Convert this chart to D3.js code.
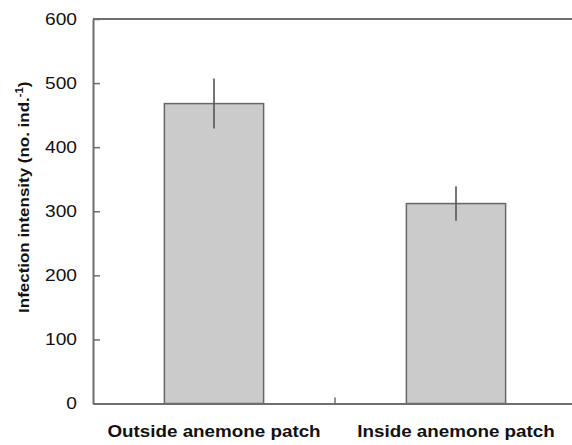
<!DOCTYPE html>
<html lang="en">
<head>
<meta charset="utf-8">
<script src="https://d3js.org/d3.v7.min.js"></script>
<style>
  body { margin: 0; background: #fff; }
  text { font-family: "Liberation Sans", Arial, sans-serif; fill: #111; }
</style>
</head>
<body>
<div id="chart"></div>
<script>
// values
const categories = ["Outside anemone patch", "Inside anemone patch"];
const means = [468, 312];
const errors = [39, 27];
const yTicks = [0, 100, 200, 300, 400, 500, 600];

const W = 572, H = 445;
const plotLeft = 93, plotRight = 577, plotTop = 19, plotBottom = 403.5;

const svg = d3.select("#chart").append("svg")
  .attr("width", W)
  .attr("height", H);

const x = d3.scaleBand()
  .domain(categories)
  .range([plotLeft, plotRight])
  .paddingInner(0.59)
  .paddingOuter(0.295);

const y = d3.scaleLinear()
  .domain([0, 600])
  .range([plotBottom, plotTop]);

// text in the picture is a little wider than Arial
function stretch(sel, k) {
  sel.each(function() {
    const w = this.getComputedTextLength();
    d3.select(this).attr("textLength", w * k).attr("lengthAdjust", "spacingAndGlyphs");
  });
}

const axisCol = "#6e6e6e";

// bars
svg.append("g")
  .selectAll("rect")
  .data(categories)
  .join("rect")
    .attr("x", d => x(d))
    .attr("y", (d, i) => y(means[i]))
    .attr("width", x.bandwidth())
    .attr("height", (d, i) => y(0) - y(means[i]))
    .attr("fill", "#cbcbcb")
    .attr("stroke", "#666")
    .attr("stroke-width", 1.5);

// error bars
svg.append("g")
  .selectAll("line")
  .data(categories)
  .join("line")
    .attr("x1", d => x(d) + x.bandwidth() / 2)
    .attr("x2", d => x(d) + x.bandwidth() / 2)
    .attr("y1", (d, i) => y(means[i] + errors[i]))
    .attr("y2", (d, i) => y(means[i] - errors[i]))
    .attr("stroke", "#555")
    .attr("stroke-width", 1.6);

// y axis with inward ticks
const yAxis = svg.append("g")
  .attr("transform", `translate(${plotLeft},0)`)
  .call(d3.axisLeft(y).tickValues(yTicks).tickSizeInner(-7).tickSizeOuter(0).tickPadding(16));
yAxis.select(".domain").attr("stroke", axisCol).attr("stroke-width", 2);
yAxis.selectAll(".tick line").attr("stroke", axisCol).attr("stroke-width", 1.5);
yAxis.selectAll(".tick text")
  .attr("font-size", 16.5)
  .attr("font-family", "Liberation Sans, Arial, sans-serif")
  .attr("fill", "#111")
  .call(stretch, 1.16);

// top frame line
svg.append("line")
  .attr("x1", plotLeft).attr("x2", plotRight)
  .attr("y1", y(600)).attr("y2", y(600))
  .attr("stroke", axisCol).attr("stroke-width", 2);

// bottom axis
const xAxis = svg.append("g")
  .attr("transform", `translate(0,${plotBottom})`)
  .call(d3.axisBottom(x).tickSize(0).tickPadding(22).tickSizeOuter(0));
xAxis.select(".domain").attr("stroke", axisCol).attr("stroke-width", 2);
xAxis.selectAll(".tick text")
  .attr("font-size", 16.5)
  .attr("font-weight", "bold")
  .attr("font-family", "Liberation Sans, Arial, sans-serif")
  .attr("fill", "#111")
  .call(stretch, 1.14);

// small divider tick between the two categories
const mid = (x(categories[0]) + x.bandwidth() + x(categories[1])) / 2;
svg.append("line")
  .attr("x1", mid).attr("x2", mid)
  .attr("y1", plotBottom).attr("y2", plotBottom - 6)
  .attr("stroke", axisCol).attr("stroke-width", 1.5);

// y label
const yl = svg.append("text")
  .attr("transform", `translate(29,${(plotTop + plotBottom) / 2 - 14}) rotate(-90)`)
  .attr("text-anchor", "middle")
  .attr("font-size", 15)
  .attr("font-weight", "bold");
yl.append("tspan").text("Infection intensity (no. ind.");
yl.append("tspan").attr("font-size", 10).attr("dy", -6).text("-1");
yl.append("tspan").attr("dy", 6).text(")");
yl.call(stretch, 1.13);
</script>
</body>
</html>
